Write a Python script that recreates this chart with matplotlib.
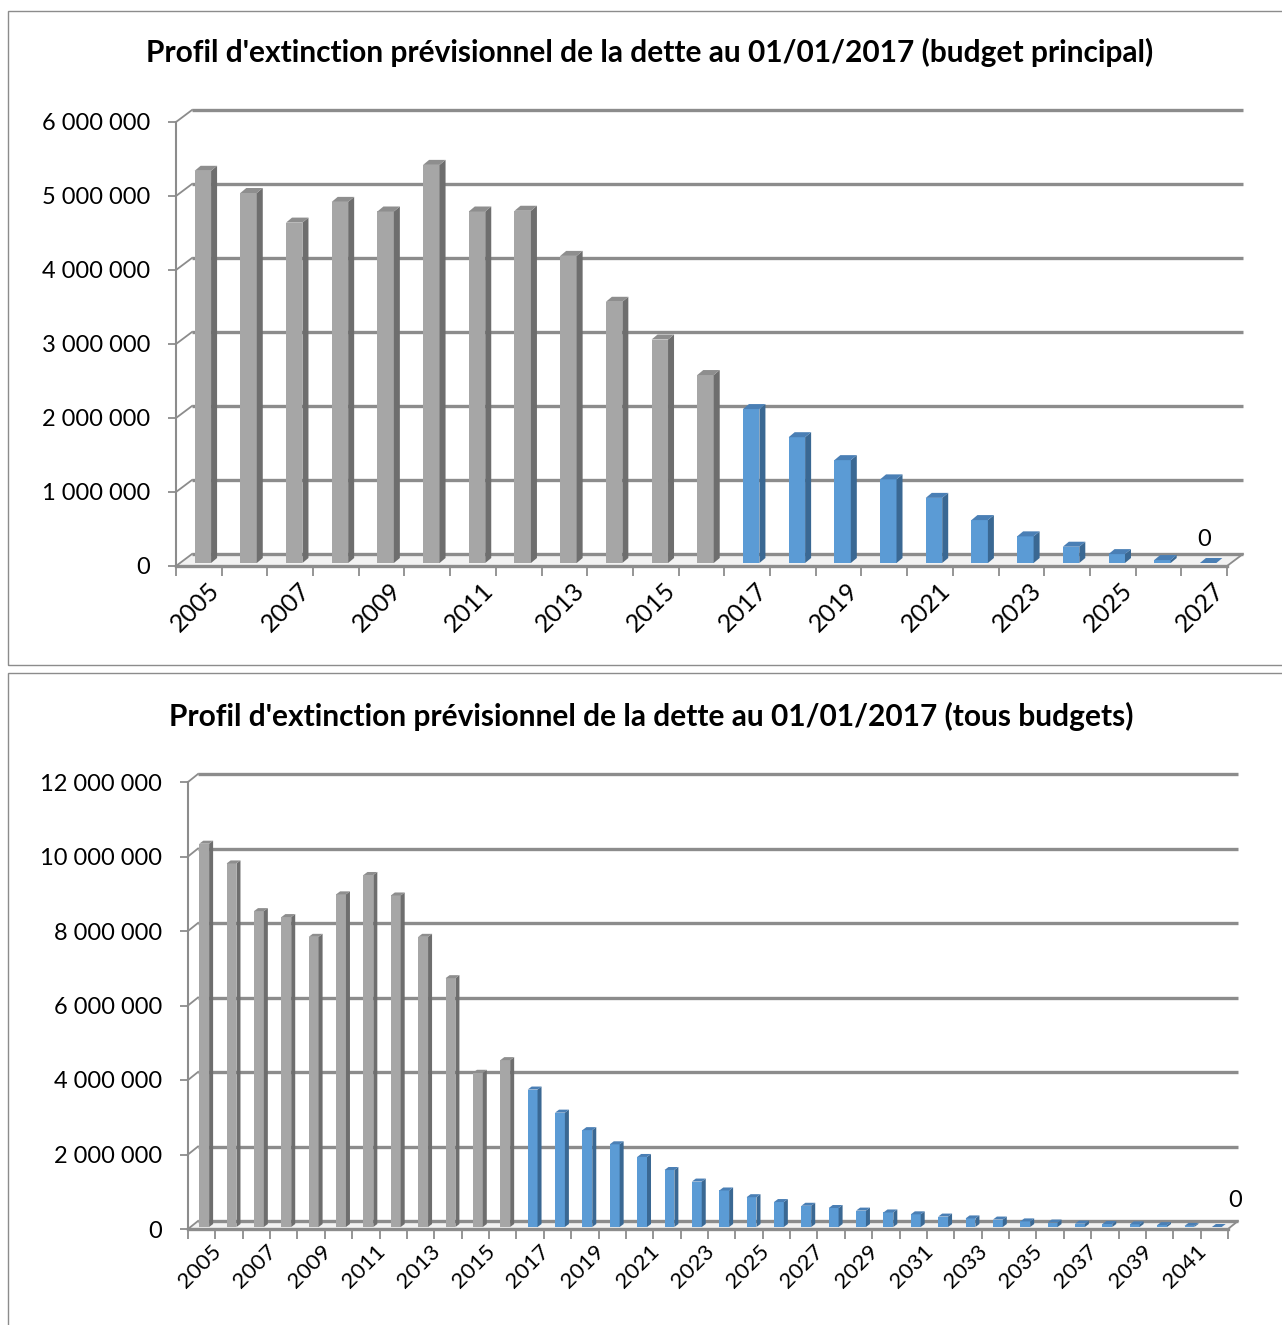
import matplotlib.pyplot as plt
from matplotlib.patches import Polygon, Rectangle

# data (euros of outstanding debt at 1 Jan)
years_top = list(range(2005, 2028))
debt_top = [5300000, 5000000, 4600000, 4880000, 4750000, 5380000, 4750000, 4760000,
            4150000, 3530000, 3020000, 2540000,
            2080000, 1700000, 1390000, 1130000, 880000, 580000, 360000, 220000,
            120000, 40000, 0]

years_bot = list(range(2005, 2043))
debt_bot = [10290000, 9760000, 8480000, 8320000, 7790000, 8930000, 9450000, 8900000,
            7790000, 6680000, 4140000, 4480000,
            3690000, 3070000, 2600000, 2220000, 1880000, 1530000, 1220000, 980000,
            800000, 670000, 570000, 510000, 440000, 390000, 340000, 280000,
            230000, 200000, 150000, 120000, 90000, 80000, 70000, 50000,
            30000, 0]

last_known_year = 2016
title_top = "Profil d'extinction prévisionnel de la dette au 01/01/2017 (budget principal)"
title_bot = "Profil d'extinction prévisionnel de la dette au 01/01/2017 (tous budgets)"

FW, FH = 1282, 1325
plt.rcParams['font.family'] = ['Lato', 'DejaVu Sans']

GRID = '#8C8C8C'
GRAY = ('#A6A6A6', '#6E6E6E', '#8E8E8E')    # front, side, top
BLUE = ('#5B9BD5', '#3A6893', '#4A7FB5')

fig = plt.figure(figsize=(FW / 100, FH / 100), dpi=100)


def px_rect(x0, y0, x1, y1):
    return [x0 / FW, 1 - y1 / FH, (x1 - x0) / FW, (y1 - y0) / FH]


def chart(rect_px, years, vals, ymax, ystep, depth, bar_w, bar_depth, title, title_xy,
          xfont, lab_shift, zero_off):
    ax = fig.add_axes(px_rect(*rect_px))
    n = len(years)
    ax.set_xlim(0, n)
    ax.set_ylim(0, ymax)
    w_px = rect_px[2] - rect_px[0]
    h_px = rect_px[3] - rect_px[1]
    ux, uy = n / w_px, ymax / h_px
    ddx, ddy = depth[0] * ux, depth[1] * uy

    # back wall grid + left wall connectors + floor
    for v in range(0, ymax + 1, ystep):
        ax.plot([ddx, n + ddx], [v + ddy, v + ddy], color=GRID, lw=2.4,
                zorder=1, clip_on=False, solid_capstyle='butt')
        ax.plot([0, ddx], [v, v + ddy], color=GRID, lw=1.3, zorder=1, clip_on=False)
    ax.add_patch(Polygon([(0, 0), (n, 0), (n + ddx, ddy), (ddx, ddy)], closed=True,
                         fc='#F2F2F2', ec='none', zorder=0.5, clip_on=False))
    ax.plot([n, n + ddx], [0, ddy], color=GRID, lw=1.3, zorder=1, clip_on=False)

    # bars with a fake 3D side and top
    sx, sy = 0.25 * ddx, 0.25 * ddy
    bdx, bdy = bar_depth[0] * ux, bar_depth[1] * uy
    cols = [GRAY if y <= last_known_year else BLUE for y in years]
    xs = [i + 0.5 + sx for i in range(n)]
    ax.bar(xs, vals, width=bar_w, bottom=sy, color=[c[0] for c in cols],
           zorder=3, clip_on=False)
    for x, v, c in zip(xs, vals, cols):
        x0, x1, b = x - bar_w / 2, x + bar_w / 2, sy
        ax.add_patch(Polygon([(x1, b), (x1, b + v), (x1 + bdx, b + v + bdy), (x1 + bdx, b + bdy)],
                             closed=True, fc=c[1], ec='none', zorder=3, clip_on=False))
        ax.add_patch(Polygon([(x0, b + v), (x1, b + v), (x1 + bdx, b + v + bdy), (x0 + bdx, b + v + bdy)],
                             closed=True, fc=c[2], ec='none', zorder=3, clip_on=False))

    ax.text(xs[-1] + zero_off[0] * ux, vals[-1] + zero_off[1] * uy, "0",
            ha='center', va='bottom', fontsize=17)

    for s in ('top', 'right'):
        ax.spines[s].set_visible(False)
    ax.spines['left'].set_color(GRID)
    ax.spines['left'].set_linewidth(1.5)
    ax.spines['bottom'].set_color(GRID)
    ax.spines['bottom'].set_linewidth(2.4)

    yt = list(range(0, ymax + 1, ystep))
    ax.set_yticks(yt)
    ax.set_yticklabels([f"{v:,}".replace(",", " ") for v in yt], fontsize=17)
    ax.tick_params(axis='y', length=5.5, width=1.3, color=GRID, pad=13)

    ax.set_xticks(range(n + 1))
    ax.set_xticklabels([])
    ax.tick_params(axis='x', which='major', length=7.5, width=1.3, color=GRID)
    lab_idx = list(range(0, n, 2))
    ax.set_xticks([i + lab_shift for i in lab_idx], minor=True)
    ax.set_xticklabels([str(years[i]) for i in lab_idx], minor=True, rotation=45,
                       ha='right', rotation_mode='anchor', fontsize=xfont)
    ax.tick_params(axis='x', which='minor', length=0, pad=9)

    fig.text(title_xy[0] / FW, 1 - title_xy[1] / FH, title,
             ha='center', va='center', fontsize=21.5, fontweight='bold')
    return ax


# panel frames
fig.add_artist(Rectangle((8 / FW, 1 - 665 / FH), 1.0, (665 - 11) / FH,
                         transform=fig.transFigure, fill=False, ec=GRID, lw=1))
fig.add_artist(Rectangle((8 / FW, -0.01), 1.0, (1325 - 673) / FH + 0.01,
                         transform=fig.transFigure, fill=False, ec=GRID, lw=1))

chart((176, 122, 1227, 566), years_top, debt_top, 6000000, 1000000,
      (16, 12), 0.36, (6, 5), title_top, (650, 52), 18, 0.68, (-4, 16))
chart((188, 782, 1228, 1229), years_bot, debt_bot, 12000000, 2000000,
      (10, 8), 0.36, (4, 3), title_bot, (651, 716), 16, 0.85, (18, 18))

fig.savefig("out.png", dpi=100)
